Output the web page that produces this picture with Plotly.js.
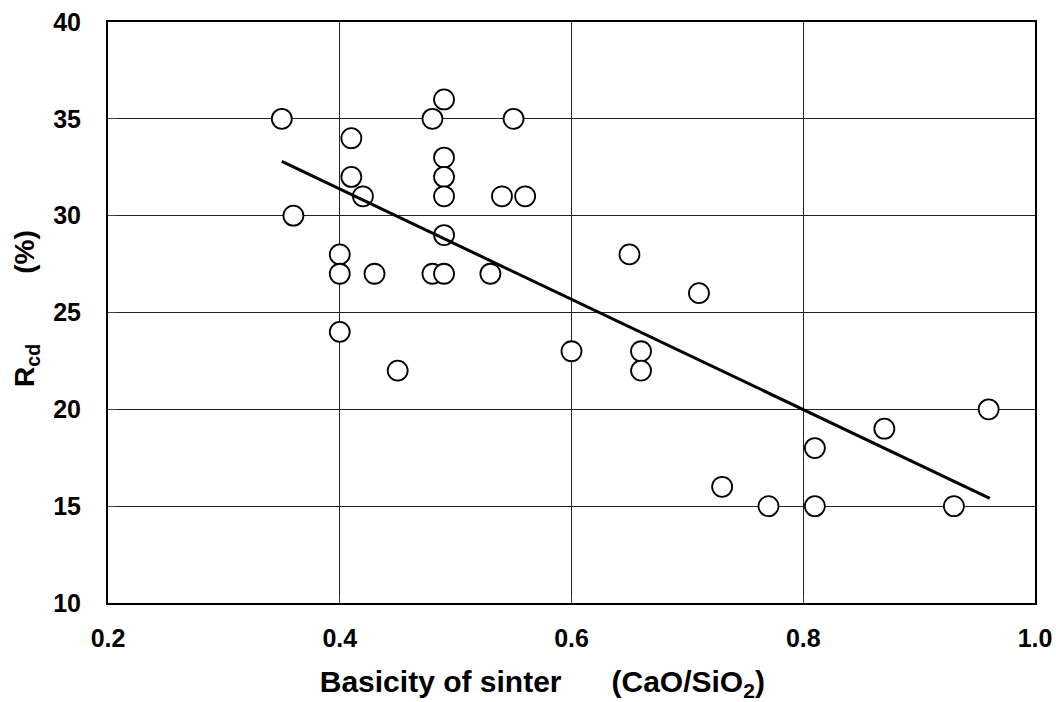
<!DOCTYPE html>
<html>
<head>
<meta charset="utf-8">
<script src="https://cdn.plot.ly/plotly-3.0.1.min.js"></script>
<style>html,body{margin:0;padding:0;background:#fff;}#chart{width:1056px;height:702px;}</style>
</head>
<body>
<div id="chart"></div>
<script>
// Measured points: basicity (CaO/SiO2) vs Rcd (%)
const basicity = [0.35, 0.36, 0.40, 0.40, 0.40, 0.41, 0.41, 0.42, 0.43, 0.45,
                  0.48, 0.48, 0.49, 0.49, 0.49, 0.49, 0.49, 0.49, 0.53, 0.54,
                  0.55, 0.56, 0.60, 0.65, 0.66, 0.66, 0.71, 0.73, 0.77, 0.81,
                  0.81, 0.87, 0.93, 0.96];
const rcd = [35, 30, 28, 27, 24, 34, 32, 31, 27, 22,
             35, 27, 36, 33, 32, 31, 29, 27, 27, 31,
             35, 31, 23, 28, 23, 22, 26, 16, 15, 18,
             15, 19, 15, 20];
// Regression line end points
const trendX = [0.35, 0.961];
const trendY = [32.8, 15.4];
const xTicks = [0.2, 0.4, 0.6, 0.8, 1.0];
const yTicks = [10, 15, 20, 25, 30, 35, 40];

const nb = '\u00a0';
const zw = '\u200b';
const fontFam = '"Liberation Sans", Arial, sans-serif';

const data = [
  {
    x: basicity, y: rcd, type: 'scatter', mode: 'markers',
    marker: {symbol: 'circle', size: 20, color: '#ffffff', line: {color: '#000000', width: 1.8}},
    showlegend: false, hoverinfo: 'x+y'
  },
  {
    x: trendX, y: trendY, type: 'scatter', mode: 'lines',
    line: {color: '#000000', width: 3},
    showlegend: false, hoverinfo: 'skip'
  }
];

const layout = {
  width: 1056, height: 702,
  margin: {l: 108, r: 21, t: 22, b: 99},
  paper_bgcolor: '#ffffff', plot_bgcolor: '#ffffff',
  font: {family: fontFam, color: '#000000', size: 25, weight: 'bold'},
  xaxis: {
    range: [0.2, 1.0], tickvals: xTicks, ticktext: xTicks.map(v => v.toFixed(1)),
    showgrid: true, gridcolor: '#222222', gridwidth: 1,
    showline: true, linecolor: '#000000', linewidth: 2, mirror: true,
    ticks: 'inside', ticklen: 8, tickcolor: '#444444',
    tickfont: {family: fontFam, size: 25, weight: 'bold', color: '#000000'},
    ticklabelstandoff: 12,
    zeroline: false, automargin: false,
    title: {text: 'Basicity of sinter' + nb.repeat(6) + '(CaO/SiO<sub>2</sub>)' + nb.repeat(7) + zw,
            font: {family: fontFam, size: 30, weight: 'bold', color: '#000000'}, standoff: 27}
  },
  yaxis: {
    range: [10, 40], tickvals: yTicks,
    showgrid: true, gridcolor: '#222222', gridwidth: 1,
    showline: true, linecolor: '#000000', linewidth: 2, mirror: true,
    ticks: 'inside', ticklen: 8, tickcolor: '#444444',
    tickfont: {family: fontFam, size: 25, weight: 'bold', color: '#000000'},
    ticklabelstandoff: 20,
    zeroline: false, automargin: false,
    title: {text: zw + nb + 'R<sub>cd</sub>' + nb.repeat(9) + '(%)',
            font: {family: fontFam, size: 28, weight: 'bold', color: '#000000'}, standoff: 10}
  }
};

Plotly.newPlot('chart', data, layout, {displayModeBar: false, staticPlot: true});
</script>
</body>
</html>
